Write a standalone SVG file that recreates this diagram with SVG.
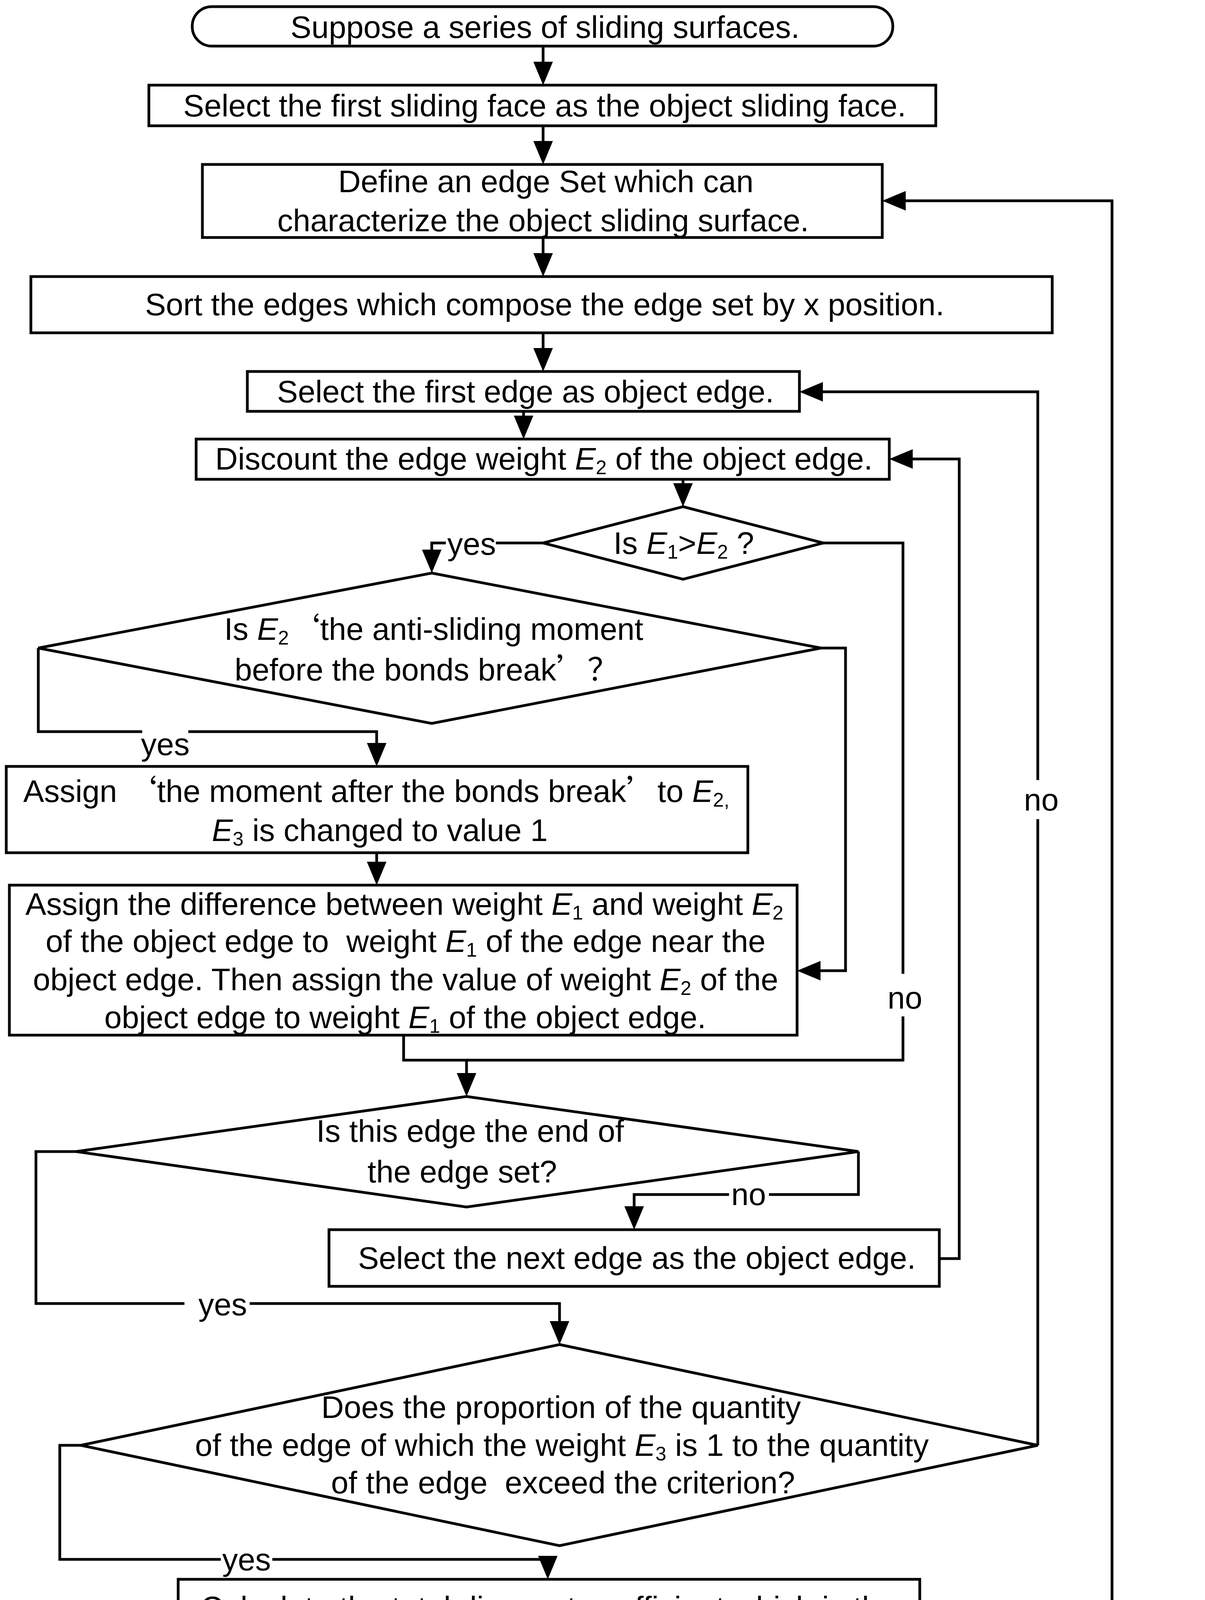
<svg xmlns="http://www.w3.org/2000/svg" width="3084" height="5309" viewBox="0 0 3084 5309">
<style>
.n{fill:#fff;stroke:#000;stroke-width:7}
.c path{fill:none;stroke:#000;stroke-width:7;stroke-linejoin:miter}
.a{marker-end:url(#ah)}
text{font-family:"Liberation Sans","Noto Sans",sans-serif;font-size:80px;fill:#000;text-anchor:middle}
.i{font-style:italic}
.s{font-size:50px}
.q{font-family:"Noto Sans CJK SC","Liberation Sans",sans-serif}
.bg{fill:#fff;stroke:none}
</style>
<defs>
<marker id="ah" markerUnits="userSpaceOnUse" markerWidth="60" markerHeight="50" viewBox="0 0 60 50" refX="50" refY="25" orient="auto">
<path d="M0,0 L60,25 L0,50 z" fill="#000"/>
</marker>
</defs>
<rect width="3084" height="5309" fill="#fff"/>

<g id="connectors" class="c">
<path class="a" d="M1390,118 V208"/>
<path class="a" d="M1390,322 V411"/>
<path class="a" d="M1390,608 V698"/>
<path class="a" d="M1390,852 V941"/>
<path class="a" d="M1340,1053 V1114"/>
<path class="a" d="M1748,1227 V1287"/>
<path class="a" d="M1390,1390 H1105 V1457"/>
<path d="M2107,1390 H2311 V2714 H1194"/>
<path class="a" d="M1033,2650 V2714 H1194 V2797"/>
<path class="a" d="M98,1659 V1873 H964 V1952"/>
<path class="a" d="M2101,1659 H2164 V2485 H2050"/>
<path class="a" d="M964,2183 V2256"/>
<path class="a" d="M195,2948 H92 V3337 H1432 V3432"/>
<path class="a" d="M2197,2948 V3058 H1623 V3138"/>
<path class="a" d="M2404,3222 H2455 V1175 H2286"/>
<path class="a" d="M2656,3700 V1003 H2056"/>
<path class="a" d="M207,3700 H153 V3992 H1402 V4033"/>
<path class="a" d="M1377,4285 V4347"/>
<path class="a" d="M380,4499 H269 V4943 H1560 V5038"/>
<path class="a" d="M2374,4499 V4613 H1678 V4723"/>
<path class="a" d="M2777,4807 H2846 V514 H2268"/>
</g>

<g id="labels">
<rect class="bg" x="1141" y="1375" width="128" height="60"/>
<text x="1207" y="1420">yes</text>
<rect class="bg" x="364" y="1862" width="118" height="90"/>
<text x="423" y="1933">yes</text>
<rect class="bg" x="2268" y="2493" width="90" height="109"/>
<text x="2316" y="2582">no</text>
<rect class="bg" x="2615" y="1997" width="95" height="100"/>
<text x="2665" y="2075">no</text>
<rect class="bg" x="1866" y="3040" width="102" height="50"/>
<text x="1916" y="3085">no</text>
<rect class="bg" x="472" y="3320" width="167" height="55"/>
<text x="570" y="3367">yes</text>
<rect class="bg" x="565" y="3975" width="132" height="55"/>
<text x="631" y="4020">yes</text>
<rect class="bg" x="1972" y="4596" width="98" height="50"/>
<text x="2021" y="4640">no</text>
<rect class="bg" x="628" y="4926" width="128" height="55"/>
<text x="692" y="4972">yes</text>
</g>

<g id="start">
<rect class="n" x="492" y="17" width="1793" height="101" rx="50" ry="50"/>
<text x="1395" y="97">Suppose a series of sliding surfaces.</text>
</g>
<g id="select-first-face">
<rect class="n" x="381" y="218" width="2014" height="104"/>
<text x="1394" y="298">Select the first sliding face as the object sliding face.</text>
</g>
<g id="define-edge-set">
<rect class="n" x="518" y="421" width="1740" height="187"/>
<text x="1397" y="492">Define an edge Set which can</text>
<text x="1390" y="592">characterize the object sliding surface.</text>
</g>
<g id="sort-edges">
<rect class="n" x="79" y="708" width="2614" height="144"/>
<text x="1394" y="807">Sort the edges which compose the edge set by x position.</text>
</g>
<g id="select-first-edge">
<rect class="n" x="633" y="951" width="1413" height="102"/>
<text x="1345" y="1030">Select the first edge as object edge.</text>
</g>
<g id="discount">
<rect class="n" x="502" y="1124" width="1774" height="103"/>
<text x="1392" y="1202">Discount the edge weight <tspan class="i">E</tspan><tspan class="s" dy="12">2</tspan><tspan dy="-12"> of the object edge.</tspan></text>
</g>
<g id="decision-e1-e2">
<polygon class="n" points="1748,1297 2107,1390 1748,1483 1390,1390"/>
<text x="1750" y="1418">Is <tspan class="i">E</tspan><tspan class="s" dy="12">1</tspan><tspan dy="-12">&gt;</tspan><tspan class="i">E</tspan><tspan class="s" dy="12">2</tspan><tspan dy="-12"> ?</tspan></text>
</g>
<g id="decision-antisliding">
<polygon class="n" points="1105,1467 2101,1659 1105,1852 98,1659"/>
<text x="1110" y="1638">Is <tspan class="i">E</tspan><tspan class="s" dy="12">2</tspan><tspan dy="-12" class="q">‘</tspan>the anti-sliding moment</text>
<text x="1092" y="1742">before the bonds break<tspan class="q">’？</tspan></text>
</g>
<g id="assign-after-break">
<rect class="n" x="16" y="1962" width="1898" height="221"/>
<text x="963" y="2053">Assign <tspan class="q">‘</tspan>the moment after the bonds break<tspan class="q">’</tspan>to <tspan class="i">E</tspan><tspan class="s" dy="12">2,</tspan></text>
<text x="972" y="2153"><tspan class="i">E</tspan><tspan class="s" dy="12">3</tspan><tspan dy="-12"> is changed to value 1</tspan></text>
</g>
<g id="assign-difference">
<rect class="n" x="24" y="2266" width="2016" height="384"/>
<text x="1035" y="2342">Assign the difference between weight <tspan class="i">E</tspan><tspan class="s" dy="12">1</tspan><tspan dy="-12"> and weight </tspan><tspan class="i">E</tspan><tspan class="s" dy="12">2</tspan></text>
<text x="1038" y="2437" xml:space="preserve">of the object edge to  weight <tspan class="i">E</tspan><tspan class="s" dy="12">1</tspan><tspan dy="-12"> of the edge near the</tspan></text>
<text x="1038" y="2535">object edge. Then assign the value of weight <tspan class="i">E</tspan><tspan class="s" dy="12">2</tspan><tspan dy="-12"> of the</tspan></text>
<text x="1037" y="2632">object edge to weight <tspan class="i">E</tspan><tspan class="s" dy="12">1</tspan><tspan dy="-12"> of the object edge.</tspan></text>
</g>
<g id="decision-end-edge-set">
<polygon class="n" points="1194,2807 2197,2948 1194,3090 195,2948"/>
<text x="1203" y="2923">Is this edge the end of</text>
<text x="1183" y="3027">the edge set?</text>
</g>
<g id="select-next-edge">
<rect class="n" x="842" y="3148" width="1562" height="145"/>
<text x="1630" y="3248">Select the next edge as the object edge.</text>
</g>
<g id="decision-proportion">
<polygon class="n" points="1432,3442 2656,3700 1432,3957 207,3700"/>
<text x="1436" y="3630">Does the proportion of the quantity</text>
<text x="1438" y="3727">of the edge of which the weight <tspan class="i">E</tspan><tspan class="s" dy="12">3</tspan><tspan dy="-12"> is 1 to the quantity</tspan></text>
<text x="1441" y="3823" xml:space="preserve">of the edge  exceed the criterion?</text>
</g>
<g id="calculate">
<rect class="n" x="456" y="4043" width="1898" height="242"/>
<text x="1404" y="4143">Calculate the total discount coefficient which is the</text>
<text x="1406" y="4240">safety factor of the corresponding sliding face.</text>
</g>
<g id="decision-end-surfaces">
<polygon class="n" points="1377,4357 2374,4499 1377,4642 380,4499"/>
<text x="1377" y="4480">Is the sliding surface the end of</text>
<text x="1392" y="4577">the supposed sliding surfaces?</text>
</g>
<g id="select-next-surface">
<rect class="n" x="576" y="4733" width="2201" height="143"/>
<text x="1680" y="4833">Select the next sliding surface as the object sliding surface.</text>
</g>
<g id="result">
<rect class="n" x="55" y="5048" width="3005" height="239"/>
<text x="1576" y="5147">The global safety factor of the slope is the minimun safety factor calculated above</text>
<text x="1564" y="5243">and the corresponding sliding surface is the most dangerous sliding surface.</text>
</g>
</svg>
